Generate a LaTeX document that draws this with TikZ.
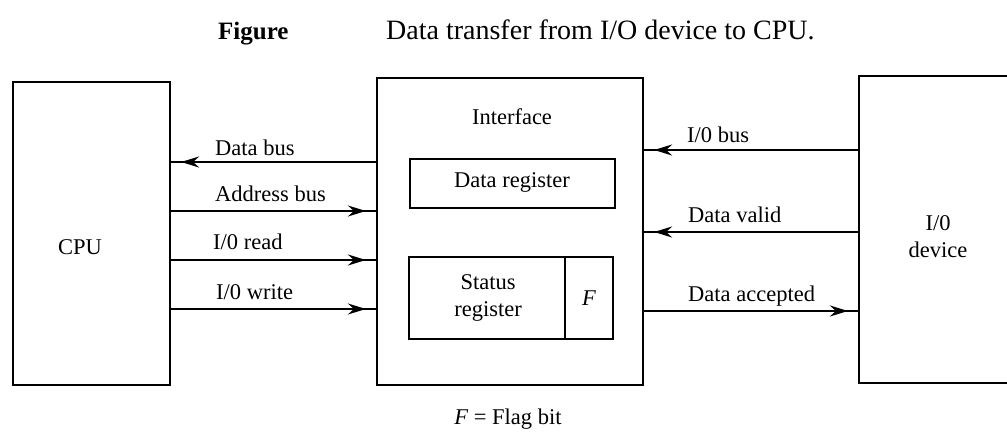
\documentclass[tikz,border=0pt]{standalone}
\usepackage{fontspec}
\setmainfont{Liberation Serif}
\usetikzlibrary{arrows.meta,decorations.markings}
\tikzset{
  box/.style={draw, line width=2.2pt, inner sep=0pt},
  lbl/.style={font=\fontsize{22.5}{24}\selectfont, inner sep=0pt},
  sig/.style={line width=2.2pt, postaction={decorate},
    decoration={markings, mark=at position -10pt with {\arrow{Stealth[length=18pt,width=11pt,inset=6pt]}}}}
}
\begin{document}
\begin{tikzpicture}[x=1pt,y=-1pt]
\useasboundingbox (0,0) rectangle (1007,435);
% title
\node[lbl, font=\fontsize{25}{27}\selectfont\bfseries, anchor=base west] (fig) at (218,40) {Figure};
\node[lbl, font=\fontsize{28}{30}\selectfont, anchor=base west] (title) at (386,40) {Data transfer from I/O device to CPU.};
% boxes
\node[box, minimum width=157pt, minimum height=303pt] (cpu) at (91.5,233.5) {};
\node[box, minimum width=266pt, minimum height=307pt] (iface) at (510,231.5) {};
\node[box, minimum width=171pt, minimum height=307pt] (dev) at (944.5,229.5) {};
\node[box, minimum width=205pt, minimum height=49pt] (dreg) at (512.5,183.5) {};
\node[box, minimum width=204pt, minimum height=82pt] (sreg) at (511,298) {};
\coordinate (fdiv) at (565,298);
\draw[line width=2.2pt] (fdiv |- sreg.north) -- (fdiv |- sreg.south);
% texts in boxes
\node[lbl] (cpul) at (80,247) {CPU};
\node[lbl] (ifl) at (512,117) {Interface};
\node[lbl] (drl) at (512,182) {Data register};
\node[lbl, align=center, font=\fontsize{22.5}{27}\selectfont] (srl) at (488,298) {Status\\register};
\node[lbl, font=\fontsize{22.5}{24}\selectfont\itshape] (fl) at (589,298) {F};
\node[lbl, align=center, font=\fontsize{22.5}{27}\selectfont] (devl) at (938,237) {I/0\\device};
% left signals
\draw[sig] (iface.west |- 0,162) -- (cpu.east |- 0,162);
\draw[sig] (cpu.east |- 0,211) -- (iface.west |- 0,211);
\draw[sig] (cpu.east |- 0,260) -- (iface.west |- 0,260);
\draw[sig] (cpu.east |- 0,309) -- (iface.west |- 0,309);
\node[lbl, anchor=base west] (l1) at (215,156) {Data bus};
\node[lbl, anchor=base west] (l2) at (215,202) {Address bus};
\node[lbl, anchor=base west] (l3) at (213,250) {I/0 read};
\node[lbl, anchor=base west] (l4) at (216,300) {I/0 write};
% right signals
\draw[sig] (dev.west |- 0,150) -- (iface.east |- 0,150);
\draw[sig] (dev.west |- 0,232) -- (iface.east |- 0,232);
\draw[sig] (iface.east |- 0,311) -- (dev.west |- 0,311);
\node[lbl, anchor=base west] (r1) at (687,143) {I/0 bus};
\node[lbl, anchor=base west] (r2) at (688,223) {Data valid};
\node[lbl, anchor=base west] (r3) at (688,302) {Data accepted};
% footnote
\node[lbl, anchor=base] (foot) at (508,425) {\textit{F} = Flag bit};
\end{tikzpicture}
\end{document}
